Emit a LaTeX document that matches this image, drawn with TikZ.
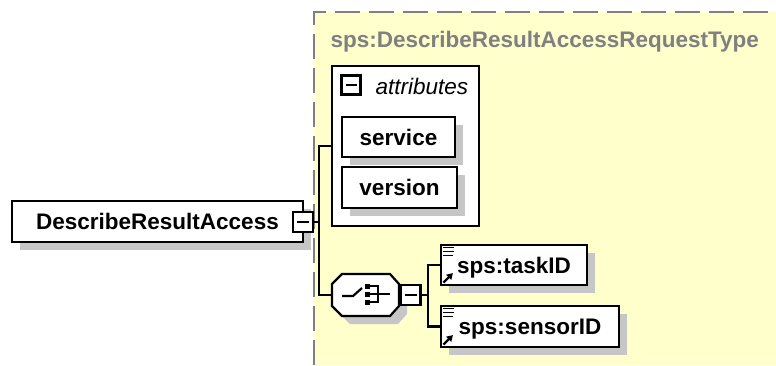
\documentclass[tikz,border=0pt]{standalone}
\usepackage{fontspec}
\setmainfont{Liberation Sans}
\usetikzlibrary{positioning}
\usetikzlibrary{shadows}
\usetikzlibrary{arrows.meta}
\definecolor{typebg}{RGB}{255,255,204}
\definecolor{shadowgray}{RGB}{198,198,198}
\definecolor{typegray}{RGB}{128,128,128}

\begin{document}
\begin{tikzpicture}[x=1pt,y=-1pt,
    every node/.style={font=\fontsize{22.5}{27}\selectfont\bfseries},
    elem/.style={draw,fill=white,line width=2.2pt,inner sep=0pt,text height=16pt,text depth=0pt,
      drop shadow={shadow xshift=8pt,shadow yshift=-8pt,fill=shadowgray,opacity=1}},
    tgl/.style={draw,fill=white,line width=2.2pt,minimum size=20pt,inner sep=0pt},
    conn/.style={line width=2.2pt}]
    \useasboundingbox (0,0) rectangle (776,365);
    % complex type area
    \fill[typebg] (314,12) rectangle (776,365);
    \draw[typegray,line width=2pt,dash pattern=on 25pt off 9pt] (314,365) -- (314,12) -- (776,12);
    \node[anchor=base west,text=typegray] (typename) at (327,47) {sps:DescribeResultAccessRequestType};

    \node[elem,minimum width=291pt,minimum height=41pt] (describe) at (157.5,221.5) {DescribeResultAccess\hspace{10pt}};
    \node[tgl] (tglmain) at (303,222) {\rule{12pt}{2.2pt}};

    % attributes
    \node[draw,fill=white,line width=2.2pt,minimum width=147pt,minimum height=160pt] (attrs) at (405.5,146) {};
    \node[tgl,minimum size=19pt] (tglattr) at (351,85) {\rule{11pt}{2.2pt}};
    \node[anchor=base west,font=\fontsize{22.5}{27}\selectfont\itshape] (attrlabel) at (372,94) {attributes};
    \node[elem,minimum width=113pt,minimum height=40pt] (service) at (398.5,137) {service};
    \node[elem,minimum width=115pt,minimum height=41pt] (version) at (399.5,187.5) {version};

    % choice
    \node[minimum width=67pt,minimum height=42pt,inner sep=0pt] (choice) at (365.5,295) {};
    \fill[shadowgray,xshift=8pt,yshift=-8pt] (342,274) -- (390,274) -- (399,284) -- (399,306) -- (390,316) -- (342,316) -- (332,306) -- (332,284) -- cycle;
    \draw[conn,fill=white] (342,274) -- (390,274) -- (399,284) -- (399,306) -- (390,316) -- (342,316) -- (332,306) -- (332,284) -- cycle;
    \draw[conn] (342,296) -- (353,296) -- (362,288);
    \foreach \y in {286,294,302}
        \fill (364.5,\y-2.5) rectangle (369.5,\y+2.5);
    \draw[conn] (369,286) -- (378,286) -- (378,302) -- (369,302);
    \draw[conn] (369,294) -- (390,294);
    \node[tgl] (tglchoice) at (410.5,295) {\rule{12pt}{2.2pt}};

    \node[elem,minimum width=146pt,minimum height=40pt] (taskid) at (514,265) {sps:taskID};
    \node[elem,minimum width=178pt,minimum height=41pt] (sensorid) at (530,326.5) {sps:sensorID};
    \foreach \n in {taskid,sensorid} {
        \draw[line width=1.8pt] ([shift={(3,3.5)}]\n.north west) -- ++(11,0)
            ([shift={(3,7.5)}]\n.north west) -- ++(11,0)
            ([shift={(3,11.5)}]\n.north west) -- ++(10,0);
        \draw[line width=2.4pt,-{Triangle[length=6pt,width=7pt]}] ([shift={(3.5,-3.5)}]\n.south west) -- ++(9.5,-9.5);
    }

    % connectors
    \draw[conn] (tglmain.east) -- ++(5,0) coordinate (fork) |- (attrs.west);
    \draw[conn] (fork) |- (choice.west);
    \draw[conn] (tglchoice.east) -- ++(6,0) coordinate (fork2) |- (taskid.west);
    \draw[conn] (fork2) |- (sensorid.west);
\end{tikzpicture}
\end{document}
